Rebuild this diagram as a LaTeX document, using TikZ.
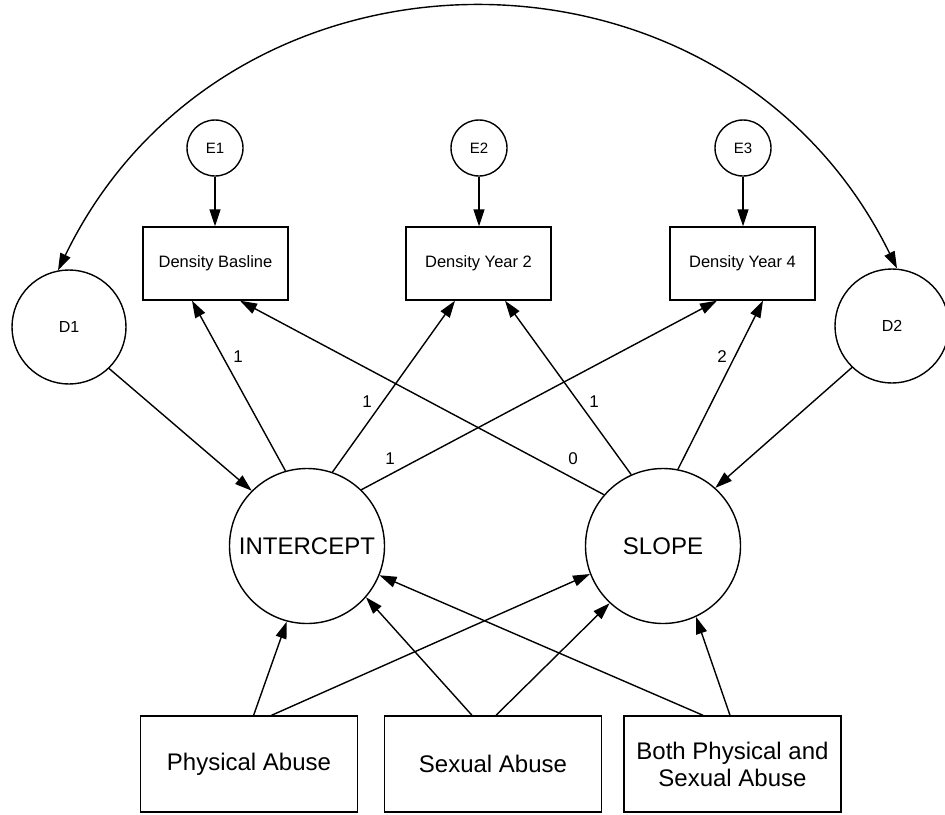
\documentclass[tikz,border=0pt]{standalone}
\usepackage{fontspec}
\setmainfont{Liberation Sans}
\usetikzlibrary{arrows.meta}
\begin{document}
\begin{tikzpicture}[x=1pt,y=-1pt,
  errc/.style={circle, draw, line width=1.4pt, inner sep=0pt, minimum size=56pt, font=\fontsize{15}{18}\selectfont},
  distc/.style={circle, draw, line width=1.4pt, inner sep=0pt, minimum size=114pt, font=\fontsize{16}{19}\selectfont},
  facc/.style={circle, draw, line width=1.4pt, inner sep=0pt, minimum size=155pt, font=\fontsize{24}{27}\selectfont},
  obsbox/.style={rectangle, draw, line width=1.4pt, inner sep=0pt, minimum width=145pt, minimum height=73pt, font=\fontsize{16.5}{19}\selectfont},
  covbox/.style={rectangle, draw, line width=1.4pt, inner sep=0pt, minimum width=217pt, minimum height=96pt, align=center, font=\fontsize{24}{27}\selectfont},
  arr/.style={-{Triangle[length=17pt,width=11pt]}, line width=1.4pt},
  biarr/.style={{Triangle[length=17pt,width=11pt]}-{Triangle[length=17pt,width=11pt]}, line width=1.4pt},
  wlab/.style={inner sep=0pt, font=\fontsize{17}{20}\selectfont}
]
\useasboundingbox (0,0) rectangle (945,814);

% error terms
\node[errc] (E1) at (215,148) {E1};
\node[errc] (E2) at (479,148) {E2};
\node[errc] (E3) at (743,148) {E3};

% observed
\node[obsbox] (B1) at (215.5,263.5) {Density Basline};
\node[obsbox] (B2) at (478.5,263.5) {Density Year 2};
\node[obsbox] (B3) at (742.5,263.5) {Density Year 4};

% disturbances
\node[distc] (D1) at (69,327) {D1};
\node[distc] (D2) at (892,326) {D2};

% factors
\node[facc] (I) at (307,546) {INTERCEPT};
\node[facc] (S) at (663,546) {SLOPE};

% covariates
\node[covbox] (P) at (249,764) {Physical Abuse};
\node[covbox] (X) at (493,764) {Sexual Abuse};
\node[covbox] (Bo) at (732.5,764) {Both Physical and\\Sexual Abuse};

% covariance arc
\draw[biarr] (D1.101) to[bend left=64, looseness=1.18] (D2.85);

% errors to observed
\draw[arr] (E1.south) -- (E1.south |- B1.north);
\draw[arr] (E2.south) -- (E2.south |- B2.north);
\draw[arr] (E3.south) -- (E3.south |- B3.north);

% factor loadings
\draw[arr] (I.106) -- ([xshift=-23.5pt]B1.south);
\draw[arr] (I.71) -- ([xshift=-23.5pt]B2.south);
\draw[arr] (I.46) -- ([xshift=-25.5pt]B3.south);
\draw[arr] (S.139) -- ([xshift=24.5pt]B1.south);
\draw[arr] (S.114) -- ([xshift=26.5pt]B2.south);
\draw[arr] (S.79) -- ([xshift=20.5pt]B3.south);

\node[wlab] (l1) at (238,357) {1};
\node[wlab] (l2) at (367,402) {1};
\node[wlab] (l3) at (390,459) {1};
\node[wlab] (l4) at (573,459) {0};
\node[wlab] (l5) at (594,402) {1};
\node[wlab] (l6) at (722,357) {2};

% disturbances to factors
\draw[arr] (D1.-46) -- (I.135);
\draw[arr] (D2.-134) -- (S.48);

% covariates to factors
\draw[arr] ([xshift=4.6pt]P.north) -- (I.-105);
\draw[arr] ([xshift=22.5pt]P.north) -- (S.201);
\draw[arr] ([xshift=-21pt]X.north) -- (I.-41);
\draw[arr] ([xshift=3pt]X.north) -- (S.227);
\draw[arr] ([xshift=-29.5pt]Bo.north) -- (I.-22);
\draw[arr] ([xshift=-2.5pt]Bo.north) -- (S.-65);
\end{tikzpicture}
\end{document}
